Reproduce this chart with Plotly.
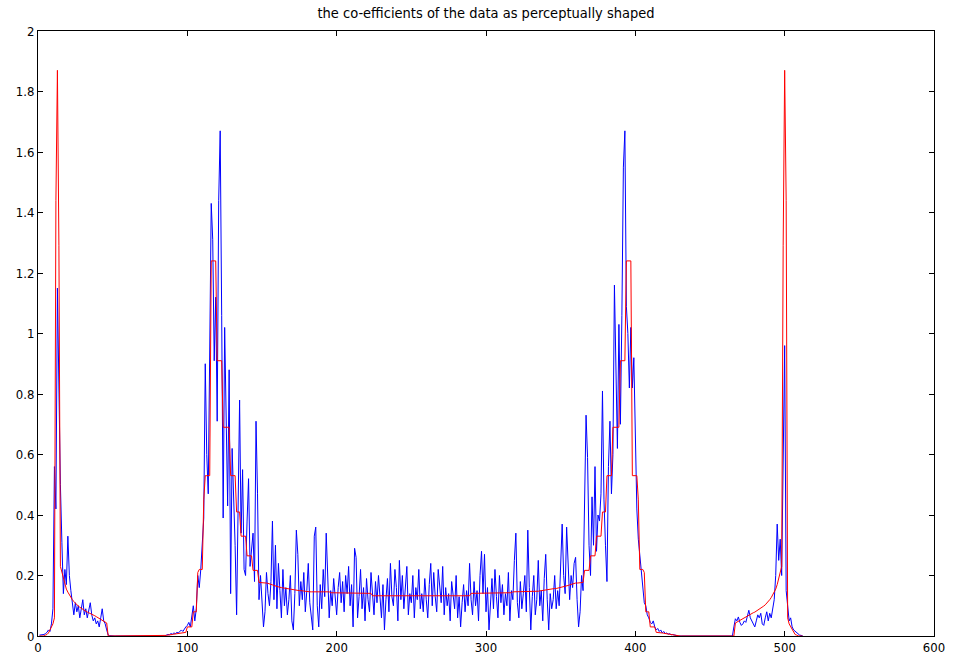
import plotly.graph_objects as go

# sample index 1..512
n_points = 512

blue_values = [
    0.003, 0.004, 0.003, 0.005, 0.008, 0.012, 0.02, 0.015, 0.04, 0.09, 0.56, 0.42, 1.15, 0.76, 0.50, 0.31,
    0.14, 0.22, 0.17, 0.33, 0.2, 0.15, 0.1, 0.07, 0.11, 0.08, 0.1, 0.06, 0.09, 0.12, 0.07, 0.09,
    0.06, 0.08, 0.11, 0.07, 0.05, 0.06, 0.04, 0.05, 0.03, 0.06, 0.09, 0.05, 0.04, 0.02, 0.003, 0.001,
    0, 0, 0, 0, 0, 0, 0, 0, 0, 0, 0, 0, 0, 0, 0, 0,
    0, 0, 0, 0, 0, 0, 0, 0, 0, 0, 0, 0, 0, 0, 0, 0,
    0, 0, 0, 0, 0, 0.003, 0.005, 0.004, 0.008, 0.006, 0.01, 0.008, 0.012, 0.01, 0.015, 0.02,
    0.015, 0.025, 0.03, 0.035, 0.045, 0.03, 0.07, 0.1, 0.05, 0.09, 0.2, 0.16, 0.22, 0.3, 0.39, 0.9,
    0.6, 0.47, 1.03, 1.43, 1.31, 0.91, 1.12, 0.71, 1.44, 1.67, 1.06, 0.39, 1.02, 0.71, 0.43, 0.88,
    0.14, 0.62, 0.49, 0.3, 0.07, 0.45, 0.78, 0.34, 0.55, 0.22, 0.2, 0.38, 0.52, 0.23, 0.3, 0.34,
    0.18, 0.71, 0.47, 0.12, 0.2, 0.1, 0.03, 0.08, 0.21, 0.14, 0.1, 0.18, 0.38, 0.12, 0.3, 0.09,
    0.24, 0.15, 0.06, 0.22, 0.1, 0.16, 0.07, 0.12, 0.2, 0.05, 0.02, 0.14, 0.35, 0.27, 0.1, 0.18,
    0.12, 0.21, 0.08, 0.15, 0.24, 0.11, 0.05, 0.02, 0.33, 0.36, 0.1, 0.03, 0.17, 0.09, 0.22, 0.13,
    0.34, 0.2, 0.06, 0.15, 0.1, 0.19, 0.13, 0.07, 0.16, 0.21, 0.11, 0.18, 0.08, 0.2, 0.14, 0.23,
    0.1, 0.17, 0.03, 0.29, 0.26, 0.06, 0.13, 0.22, 0.09, 0.16, 0.05, 0.19, 0.12, 0.08, 0.21, 0.15,
    0.07, 0.18, 0.11, 0.2, 0.14, 0.06, 0.17, 0.02, 0.12, 0.19, 0.08, 0.24, 0.13, 0.1, 0.22, 0.16,
    0.05, 0.25, 0.12, 0.2, 0.09, 0.15, 0.23, 0.07, 0.14, 0.11, 0.2, 0.06, 0.16, 0.12, 0.22, 0.09,
    0.14, 0.08, 0.19, 0.12, 0.06, 0.17, 0.24, 0.1, 0.21, 0.13, 0.08, 0.22, 0.15, 0.11, 0.23, 0.07,
    0.16, 0.1, 0.14, 0.05, 0.18, 0.12, 0.09, 0.2, 0.06, 0.13, 0.03, 0.11, 0.17, 0.08, 0.15, 0.1,
    0.24, 0.12, 0.07, 0.18, 0.1, 0.15, 0.05, 0.2, 0.28, 0.14, 0.27, 0.08, 0.16, 0.02, 0.12, 0.19,
    0.09, 0.22, 0.13, 0.06, 0.2, 0.11, 0.17, 0.07, 0.14, 0.1, 0.21, 0.05, 0.15, 0.12, 0.25, 0.34,
    0.11, 0.06, 0.18, 0.09, 0.14, 0.2, 0.08, 0.35, 0.16, 0.02, 0.13, 0.2, 0.07, 0.12, 0.25, 0.1,
    0.15, 0.05, 0.19, 0.27, 0.12, 0.02, 0.14, 0.09, 0.12, 0.2, 0.09, 0.15, 0.1, 0.25, 0.37, 0.2,
    0.14, 0.36, 0.22, 0.12, 0.2, 0.16, 0.24, 0.26, 0.12, 0.03, 0.08, 0.2, 0.15, 0.5, 0.73, 0.59,
    0.3, 0.2, 0.46, 0.3, 0.56, 0.28, 0.4, 0.38, 0.47, 0.81, 0.45, 0.3, 0.18, 0.56, 0.71, 0.47,
    0.6, 1.16, 0.85, 0.62, 1.03, 0.7, 1.06, 1.55, 1.67, 1.09, 1.0, 0.82, 1.02, 0.82, 0.92, 0.66,
    0.42, 0.32, 0.27, 0.2, 0.15, 0.11, 0.1, 0.07, 0.06, 0.045, 0.04, 0.05, 0.03, 0.02, 0.025, 0.015,
    0.02, 0.01, 0.015, 0.008, 0.01, 0.006, 0.008, 0.004, 0.005, 0.003, 0.002, 0.001, 0, 0, 0, 0,
    0, 0, 0, 0, 0, 0, 0, 0, 0, 0, 0, 0, 0, 0, 0, 0,
    0, 0, 0, 0, 0, 0, 0, 0, 0, 0, 0, 0, 0, 0, 0, 0,
    0.0, 0.03, 0.057, 0.05, 0.063, 0.045, 0.035, 0.04, 0.05, 0.045, 0.07, 0.085, 0.06, 0.05, 0.04, 0.03,
    0.05, 0.07, 0.06, 0.075, 0.04, 0.035, 0.06, 0.08, 0.05, 0.075, 0.06, 0.1, 0.12, 0.2, 0.37, 0.25,
    0.32, 0.2, 0.52, 0.96, 0.15, 0.1, 0.05, 0.06, 0.03, 0.02, 0.015, 0.01, 0.005, 0.003, 0.002, 0.001,
]

red_values = [
    0, 0, 0, 0, 0.003, 0.005, 0.01, 0.02, 0.03, 0.04, 0.06, 1.44, 1.87, 1.29, 0.23, 0.21,
    0.19, 0.17, 0.155, 0.145, 0.135, 0.127, 0.12, 0.114, 0.108, 0.103, 0.099, 0.095, 0.091, 0.088, 0.085, 0.082,
    0.079, 0.077, 0.075, 0.072, 0.07, 0.067, 0.064, 0.061, 0.058, 0.055, 0.052, 0.049, 0.046, 0.043, 0, 0,
    0, 0, 0, 0, 0, 0, 0, 0, 0, 0, 0, 0, 0, 0, 0, 0,
    0, 0, 0, 0, 0, 0, 0, 0, 0, 0, 0, 0, 0, 0, 0, 0,
    0, 0, 0, 0, 0, 0.002, 0.003, 0.003, 0.004, 0.005, 0.006, 0.007, 0.008, 0.009, 0.01, 0.01,
    0.012, 0.012, 0.012, 0.03, 0.03, 0.03, 0.03, 0.08, 0.08, 0.08, 0.21, 0.22, 0.22, 0.22, 0.45, 0.53,
    0.53, 0.53, 0.53, 1.24, 1.24, 1.24, 1.24, 0.91, 0.91, 0.91, 0.91, 0.69, 0.69, 0.69, 0.69, 0.69,
    0.53, 0.53, 0.53, 0.53, 0.41, 0.41, 0.41, 0.33, 0.33, 0.33, 0.33, 0.265, 0.265, 0.265, 0.265, 0.217,
    0.217, 0.217, 0.217, 0.177, 0.177, 0.176, 0.176, 0.175, 0.175, 0.174, 0.173, 0.171, 0.169, 0.167, 0.165, 0.163,
    0.162, 0.161, 0.16, 0.159, 0.158, 0.157, 0.157, 0.156, 0.156, 0.155, 0.154, 0.153, 0.152, 0.151, 0.15, 0.15,
    0.149, 0.148, 0.147, 0.146, 0.146, 0.146, 0.146, 0.146, 0.146, 0.146, 0.146, 0.146, 0.146, 0.146, 0.146, 0.146,
    0.146, 0.146, 0.146, 0.143, 0.143, 0.143, 0.143, 0.143, 0.143, 0.143, 0.143, 0.141, 0.141, 0.141, 0.141, 0.141,
    0.141, 0.141, 0.141, 0.141, 0.141, 0.141, 0.141, 0.141, 0.141, 0.141, 0.141, 0.141, 0.141, 0.141, 0.141, 0.133,
    0.133, 0.133, 0.133, 0.133, 0.133, 0.133, 0.133, 0.133, 0.133, 0.133, 0.133, 0.133, 0.133, 0.133, 0.133, 0.133,
    0.133, 0.133, 0.133, 0.133, 0.133, 0.133, 0.133, 0.133, 0.133, 0.133, 0.133, 0.133, 0.133, 0.133, 0.133, 0.133,
    0.133, 0.133, 0.133, 0.133, 0.133, 0.133, 0.133, 0.133, 0.133, 0.133, 0.133, 0.133, 0.133, 0.133, 0.133, 0.133,
    0.133, 0.133, 0.133, 0.133, 0.133, 0.133, 0.133, 0.133, 0.133, 0.133, 0.133, 0.133, 0.133, 0.133, 0.133, 0.133,
    0.133, 0.141, 0.141, 0.141, 0.141, 0.141, 0.141, 0.141, 0.141, 0.141, 0.141, 0.141, 0.141, 0.141, 0.141, 0.141,
    0.141, 0.141, 0.141, 0.141, 0.141, 0.143, 0.143, 0.143, 0.143, 0.143, 0.143, 0.143, 0.143, 0.146, 0.146, 0.146,
    0.146, 0.146, 0.146, 0.146, 0.146, 0.146, 0.146, 0.146, 0.146, 0.146, 0.146, 0.146, 0.146, 0.147, 0.148, 0.149,
    0.15, 0.15, 0.151, 0.152, 0.153, 0.154, 0.155, 0.156, 0.156, 0.157, 0.157, 0.158, 0.159, 0.16, 0.161, 0.162,
    0.163, 0.165, 0.167, 0.169, 0.171, 0.173, 0.174, 0.175, 0.175, 0.176, 0.176, 0.177, 0.177, 0.217, 0.217, 0.217,
    0.217, 0.265, 0.265, 0.265, 0.265, 0.33, 0.33, 0.33, 0.33, 0.41, 0.41, 0.41, 0.53, 0.53, 0.53, 0.53,
    0.69, 0.69, 0.69, 0.69, 0.69, 0.91, 0.91, 0.91, 0.91, 1.24, 1.24, 1.24, 1.24, 0.53, 0.53, 0.53,
    0.53, 0.45, 0.22, 0.22, 0.22, 0.21, 0.08, 0.08, 0.08, 0.03, 0.03, 0.03, 0.03, 0.012, 0.012, 0.012,
    0.01, 0.01, 0.009, 0.008, 0.007, 0.006, 0.005, 0.004, 0.003, 0.003, 0.002, 0, 0, 0, 0, 0,
    0, 0, 0, 0, 0, 0, 0, 0, 0, 0, 0, 0, 0, 0, 0, 0,
    0, 0, 0, 0, 0, 0, 0, 0, 0, 0, 0, 0, 0, 0, 0, 0,
    0, 0, 0.043, 0.046, 0.049, 0.052, 0.055, 0.058, 0.061, 0.064, 0.067, 0.07, 0.072, 0.075, 0.077, 0.079,
    0.082, 0.085, 0.088, 0.091, 0.095, 0.099, 0.103, 0.108, 0.114, 0.12, 0.127, 0.135, 0.145, 0.155, 0.17, 0.19,
    0.21, 0.23, 1.29, 1.87, 1.44, 0.06, 0.04, 0.03, 0.02, 0.01, 0.005, 0.003, 0, 0, 0, 0,
]

x_index = list(range(1, n_points + 1))

x_ticks = [0, 100, 200, 300, 400, 500, 600]
y_ticks = [0, 0.2, 0.4, 0.6, 0.8, 1.0, 1.2, 1.4, 1.6, 1.8, 2.0]
y_tick_labels = ["0", "0.2", "0.4", "0.6", "0.8", "1", "1.2", "1.4", "1.6", "1.8", "2"]

title_text = "the co-efficients of the data as perceptually shaped"

font_family = "Liberation Sans Narrow, Arial Narrow, DejaVu Sans Condensed, Liberation Sans, Arial, sans-serif"

fig = go.Figure()
fig.add_trace(go.Scatter(x=x_index, y=blue_values, mode="lines",
                         line=dict(color="#0000FF", width=1), showlegend=False))
fig.add_trace(go.Scatter(x=x_index, y=red_values, mode="lines",
                         line=dict(color="#FF0000", width=1), showlegend=False))

axis_common = dict(
    showline=True, linecolor="#000000", linewidth=1, mirror="ticks",
    ticks="inside", ticklen=5, tickcolor="#000000", tickwidth=1,
    showgrid=False, zeroline=False, automargin=False,
    tickfont=dict(family=font_family, size=13, color="#000000"),
)

fig.update_layout(
    template="none",
    width=953, height=664,
    margin=dict(l=38, r=19, t=31, b=28, pad=0),
    paper_bgcolor="#FFFFFF", plot_bgcolor="#FFFFFF",
    title=dict(text=title_text, x=0.5, xref="paper", xanchor="center",
               y=1 - 13 / 664, yref="container", yanchor="middle",
               font=dict(family=font_family, size=14.5, color="#000000")),
    xaxis=dict(range=[0, 600], tickvals=x_ticks, ticklabelstandoff=-1, **axis_common),
    yaxis=dict(range=[0, 2], tickvals=y_ticks, ticktext=y_tick_labels,
               ticklabelstandoff=0, **axis_common),
)

fig.write_html(
    "out.html",
    config={"displayModeBar": False},
    post_script="document.body.style.margin='0';document.body.style.padding='0';",
)
